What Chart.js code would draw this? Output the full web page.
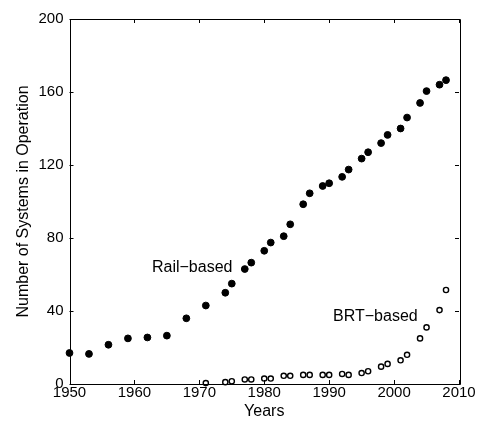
<!DOCTYPE html>
<html>
<head>
<meta charset="utf-8">
<script src="https://cdn.jsdelivr.net/npm/chart.js@4/dist/chart.umd.min.js"></script>
<style>
  html, body { margin: 0; padding: 0; background: #fff; }
  #wrap { width: 482px; height: 421px; }
</style>
</head>
<body>
<div id="wrap"><canvas id="chart" width="482" height="421"></canvas></div>
<script>
// rail-based systems (filled dots)
var railYears = [1950, 1953, 1956, 1959, 1962, 1965, 1968, 1971, 1974, 1975, 1977, 1978, 1980, 1981, 1983, 1984,
                 1986, 1987, 1989, 1990, 1992, 1993, 1995, 1996, 1998, 1999, 2001, 2002, 2004, 2005, 2007, 2008];
var railCount = [17, 16.5, 21.5, 25, 25.5, 26.5, 36, 43, 50, 55, 63, 66.5, 73, 77.5, 81, 87.5,
                 98.5, 104.5, 108.5, 110, 113.5, 117.5, 123.5, 127, 132, 136.5, 140, 146, 154, 160.5, 164, 166.5];

// BRT-based systems (open circles)
var brtYears = [1971, 1974, 1975, 1977, 1978, 1980, 1981, 1983, 1984, 1986, 1987, 1989, 1990,
                1992, 1993, 1995, 1996, 1998, 1999, 2001, 2002, 2004, 2005, 2007, 2008];
var brtCount = [0.5, 1, 1.5, 2.5, 2.5, 3, 3, 4.5, 4.5, 5, 5, 5, 5,
                5.5, 5, 6, 7, 9.5, 11, 13, 16, 25, 31, 40.5, 51.5];

var xTicks = [1950, 1960, 1970, 1980, 1990, 2000, 2010];
var yTicks = [0, 40, 80, 120, 160, 200];

var FONT = '"Liberation Sans", Arial, sans-serif';

function toPoints(xs, ys) {
  return xs.map(function(x, i) { return { x: x, y: ys[i] }; });
}

// box round the plot, with ticks pointing inwards on all four sides, and the two labels
var boxPlugin = {
  id: 'box',
  afterDraw: function(chart) {
    var ctx = chart.ctx;
    var a = chart.chartArea;
    var xs = chart.scales.x, ys = chart.scales.y;
    var len = 4;
    ctx.save();
    ctx.strokeStyle = '#000';
    ctx.lineWidth = 1;
    ctx.beginPath();
    ctx.rect(Math.round(a.left) + 0.5, Math.round(a.top) + 0.5,
             Math.round(a.right - a.left), Math.round(a.bottom - a.top));
    xTicks.forEach(function(v) {
      var px = Math.round(xs.getPixelForValue(v)) + 0.5;
      ctx.moveTo(px, a.bottom); ctx.lineTo(px, a.bottom - len);
      ctx.moveTo(px, a.top); ctx.lineTo(px, a.top + len);
    });
    yTicks.forEach(function(v) {
      var py = Math.round(ys.getPixelForValue(v)) + 0.5;
      ctx.moveTo(a.left, py); ctx.lineTo(a.left + len, py);
      ctx.moveTo(a.right, py); ctx.lineTo(a.right - len, py);
    });
    ctx.stroke();

    ctx.fillStyle = '#000';
    ctx.font = '16px ' + FONT;
    ctx.textBaseline = 'middle';
    ctx.textAlign = 'left';
    ctx.fillText('Rail\u2212based', xs.getPixelForValue(1962.7), ys.getPixelForValue(63.6));
    ctx.fillText('BRT\u2212based', xs.getPixelForValue(1990.6), ys.getPixelForValue(36.7));
    ctx.restore();
  }
};

var ctx = document.getElementById('chart');
var chart = new Chart(ctx, {
  type: 'scatter',
  data: {
    datasets: [{
      label: 'Rail-based',
      data: toPoints(railYears, railCount),
      pointStyle: 'circle',
      pointRadius: 3.4,
      backgroundColor: '#000',
      borderColor: '#000',
      borderWidth: 1,
      clip: false
    }, {
      label: 'BRT-based',
      data: toPoints(brtYears, brtCount),
      pointStyle: 'circle',
      pointRadius: 2.6,
      backgroundColor: '#fff',
      borderColor: '#000',
      borderWidth: 1.4,
      clip: false
    }]
  },
  options: {
    responsive: false,
    animation: false,
    layout: { padding: { top: 19, right: 23, left: 0, bottom: 0 } },
    plugins: {
      legend: { display: false },
      tooltip: { enabled: false }
    },
    scales: {
      x: {
        type: 'linear',
        min: 1950,
        max: 2010,
        afterBuildTicks: function(s) { s.ticks = xTicks.map(function(v) { return { value: v }; }); },
        afterFit: function(s) { s.height = 37; },
        grid: { display: false, drawTicks: false },
        border: { display: false },
        ticks: {
          color: '#000',
          padding: 0,
          maxRotation: 0,
          callback: function(v) { return String(v); },
          font: { family: FONT, size: 15 }
        },
        title: {
          display: true,
          text: 'Years',
          color: '#000',
          padding: { top: 0, bottom: 0 },
          font: { family: FONT, size: 16 }
        }
      },
      y: {
        type: 'linear',
        min: 0,
        max: 200,
        afterBuildTicks: function(s) { s.ticks = yTicks.map(function(v) { return { value: v }; }); },
        afterFit: function(s) { s.width = 69.5; },
        grid: { display: false, drawTicks: false },
        border: { display: false },
        ticks: {
          color: '#000',
          padding: 6,
          callback: function(v) { return String(v); },
          font: { family: FONT, size: 15 }
        },
        title: {
          display: true,
          text: 'Number of Systems in Operation',
          color: '#000',
          padding: { top: 14, bottom: 0 },
          font: { family: FONT, size: 16 }
        }
      }
    }
  },
  plugins: [boxPlugin]
});
</script>
</body>
</html>
